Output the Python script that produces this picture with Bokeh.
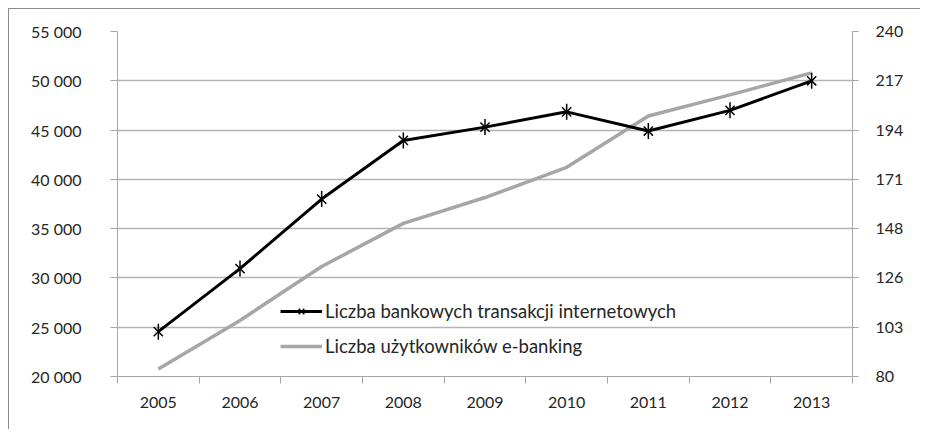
import math
from bokeh.plotting import figure
from bokeh.models import Range1d, LinearAxis, FixedTicker, Legend, LegendItem, ColumnDataSource
from bokeh.embed import file_html
from bokeh.resources import INLINE

years = ["2005", "2006", "2007", "2008", "2009", "2010", "2011", "2012", "2013"]
transactions = [24550, 30950, 38000, 43950, 45300, 46850, 44900, 47000, 50000]
users = [83.5, 106, 131, 151, 163, 177, 200.8, 210.6, 220.8]

left_ticks = [20000, 25000, 30000, 35000, 40000, 45000, 50000, 55000]
left_labels = ["20 000", "25 000", "30 000", "35 000", "40 000", "45 000", "50 000", "55 000"]
right_min, right_max = 80, 240
right_labels = ["80", "103", "126", "148", "171", "194", "217", "240"]

label_trans = "Liczba bankowych transakcji internetowych"
label_users = "Liczba użytkowników e-banking"

FONT = "Lato"
TXT = "#262626"
AXC = "#a6a6a6"
GRID = "#b4b4b4"

xs = [i + 0.5 for i in range(len(years))]
src = ColumnDataSource(dict(x=xs, t=transactions, u=users))

p = figure(width=912, height=421, output_backend="svg", toolbar_location=None,
           x_range=Range1d(0, len(years)), y_range=Range1d(left_ticks[0], left_ticks[-1]),
           frame_width=735, frame_height=345,
           min_border_left=108, min_border_top=22, min_border_right=68, min_border_bottom=53)
p.styles = {"margin-left": "8px", "margin-top": "8px",
            "border-left": "1px solid #8c8c8c", "border-top": "1px solid #8c8c8c"}
p.outline_line_color = None
p.background_fill_color = "white"
p.border_fill_color = "white"

p.extra_y_ranges = {"r": Range1d(right_min, right_max)}

# x axis
xa = p.xaxis[0]
xa.ticker = FixedTicker(ticks=xs, minor_ticks=list(range(len(years) + 1)))
xa.major_label_overrides = {x: y for x, y in zip(xs, years)}
xa.major_tick_line_color = None
xa.minor_tick_line_color = AXC
xa.minor_tick_out = 7
xa.minor_tick_in = 0
xa.axis_line_color = AXC
xa.major_label_text_font = FONT
xa.major_label_text_font_size = "16px"
xa.major_label_text_color = TXT
xa.major_label_standoff = 13

# left axis
ya = p.yaxis[0]
ya.ticker = FixedTicker(ticks=left_ticks)
ya.major_label_overrides = {t: l for t, l in zip(left_ticks, left_labels)}
ya.minor_tick_line_color = None
ya.major_tick_line_color = AXC
ya.major_tick_out = 7
ya.major_tick_in = 0
ya.axis_line_color = AXC
ya.major_label_text_font = FONT
ya.major_label_text_font_size = "16px"
ya.major_label_text_color = TXT
ya.major_label_standoff = 29

# right axis
step = (right_max - right_min) / (len(right_labels) - 1)
right_ticks = [right_min + k * step for k in range(len(right_labels))]
ra = LinearAxis(y_range_name="r", ticker=FixedTicker(ticks=right_ticks))
ra.major_label_overrides = {t: l for t, l in zip(right_ticks, right_labels)}
ra.minor_tick_line_color = None
ra.major_tick_line_color = AXC
ra.major_tick_out = 6
ra.major_tick_in = 0
ra.axis_line_color = AXC
ra.major_label_text_font = FONT
ra.major_label_text_font_size = "16px"
ra.major_label_text_color = TXT
ra.major_label_standoff = 17
p.add_layout(ra, "right")

p.xgrid.grid_line_color = None
p.ygrid.ticker = FixedTicker(ticks=left_ticks)
p.ygrid.grid_line_color = GRID
p.ygrid.grid_line_width = 1.5

gline = p.line("x", "u", source=src, y_range_name="r", line_color="#a6a6a6", line_width=3.5)
bline = p.line("x", "t", source=src, line_color="black", line_width=3)
bx = p.scatter("x", "t", source=src, marker="x", size=13, line_color="black", line_width=1.5)
bd = p.scatter("x", "t", source=src, marker="dash", size=16, angle=math.pi / 2,
               line_color="black", line_width=1.5)

legend = Legend(items=[LegendItem(label=label_trans, renderers=[bline, bx, bd]),
                       LegendItem(label=label_users, renderers=[gline])],
                location=(163, 19), orientation="vertical")
legend.border_line_color = None
legend.background_fill_alpha = 0
legend.padding = 0
legend.margin = 0
legend.spacing = 13
legend.glyph_width = 42
legend.glyph_height = 20
legend.label_standoff = 3
legend.label_text_font = FONT
legend.label_text_font_size = "18.5px"
legend.label_text_color = TXT
p.add_layout(legend, "center")

open("out.html", "w").write(file_html(p, INLINE))
